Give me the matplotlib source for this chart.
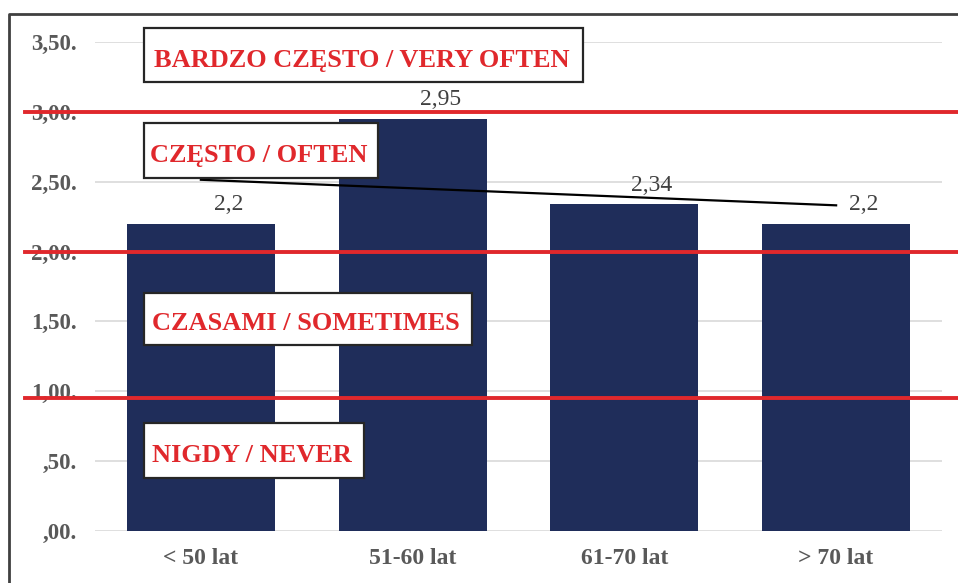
import numpy as np
import matplotlib
matplotlib.use('Agg')
import matplotlib.pyplot as plt
from matplotlib.patches import Rectangle
from matplotlib.lines import Line2D

# dane
kategorie = ['< 50 lat', '51-60 lat', '61-70 lat', '> 70 lat']
wartosci = [2.2, 2.95, 2.34, 2.2]
etykiety = ['2,2', '2,95', '2,34', '2,2']
ticki = [0, 0.5, 1.0, 1.5, 2.0, 2.5, 3.0, 3.5]
ticki_txt = [',00.', ',50.', '1,00.', '1,50.', '2,00.', '2,50.', '3,00.', '3,50.']
progi = [3.0, 2.0, 0.95]
opisy = ['BARDZO CZĘSTO / VERY OFTEN', 'CZĘSTO / OFTEN', 'CZASAMI / SOMETIMES', 'NIGDY / NEVER']

W, H = 958, 583
granat = '#1f2d5a'
czerwony = '#e0282c'
szary = '#595959'
plt.rcParams['font.family'] = ['Liberation Serif', 'DejaVu Serif']

fig = plt.figure(figsize=(W/100, H/100), dpi=100)

def px(x0, y0, x1, y1):
    # piksele obrazka -> wspolrzedne figury
    return [x0/W, 1 - y1/H, (x1-x0)/W, (y1-y0)/H]

ax = fig.add_axes(px(95, 42, 942, 531))
x = np.arange(len(kategorie))
ax.bar(x, wartosci, width=0.70, color=granat, zorder=2)
ax.set_xlim(-0.5, 3.5)
ax.set_ylim(0, 3.5)
ax.set_yticks(ticki)
ax.set_yticklabels(ticki_txt, fontsize=16.5, fontweight='bold', color=szary)
ax.set_xticks(x)
ax.set_xticklabels(kategorie, fontsize=17, fontweight='bold', color=szary)
ax.tick_params(length=0)
ax.tick_params(axis='y', pad=13)
ax.tick_params(axis='x', pad=12)
ax.yaxis.grid(True, color='#d9d9d9', lw=1.2, zorder=0)
for s in ax.spines.values():
    s.set_visible(False)

for i, (v, t) in enumerate(zip(wartosci, etykiety)):
    ax.text(i + 0.13, v + 0.06, t, ha='center', va='bottom', fontsize=17, color='#404040')

# linia trendu
a, b = np.polyfit(x, wartosci, 1)
ax.plot([0, 3], [b, a*3 + b], color='black', lw=1.6, zorder=3)

# czerwone progi
for p in progi:
    ax.axhline(p, xmin=(25-95)/847, xmax=(958-95)/847, color=czerwony, lw=2.8, clip_on=False, zorder=4)

# ramki z opisami
ramki = [(144, 28, 583, 82), (144, 123, 378, 178), (144, 293, 472, 345), (144, 423, 364, 478)]
for (x0, y0, x1, y1), txt in zip(ramki, opisy):
    r = Rectangle((x0/W, 1 - y1/H), (x1-x0)/W, (y1-y0)/H, transform=fig.transFigure,
                  facecolor='white', edgecolor='#262626', lw=1.6, zorder=5)
    fig.patches.append(r)
    fig.text((x0+x1)/2/W - 2/W, 1 - ((y0+y1)/2 + 5)/H, txt, ha='center', va='center',
             fontsize=19, fontweight='bold', color=czerwony, zorder=6)

# obramowanie
fig.add_artist(Line2D([9/W, 9/W, 1], [0, 1 - 14/H, 1 - 14/H], transform=fig.transFigure,
                      color='#404040', lw=2))

fig.savefig('out.png', dpi=100)
